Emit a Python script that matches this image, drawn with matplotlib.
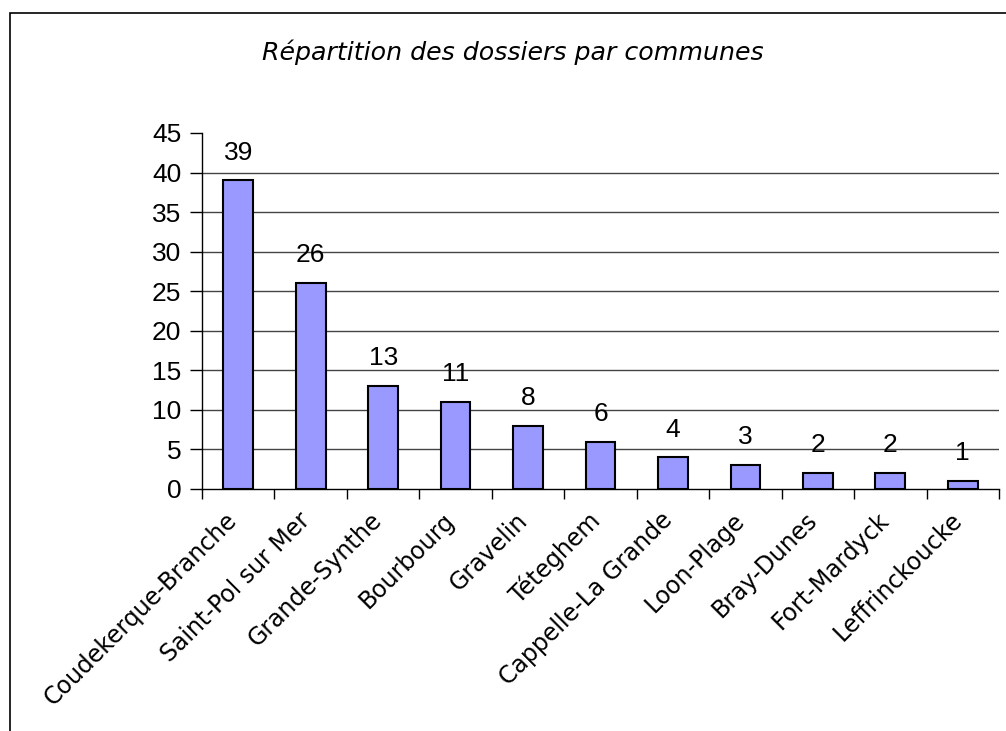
import matplotlib.pyplot as plt
from matplotlib.patches import Rectangle

communes = ["Coudekerque-Branche", "Saint-Pol sur Mer", "Grande-Synthe", "Bourbourg",
            "Gravelin", "Téteghem", "Cappelle-La Grande", "Loon-Plage", "Bray-Dunes",
            "Fort-Mardyck", "Leffrinckoucke"]
dossiers = [39, 26, 13, 11, 8, 6, 4, 3, 2, 2, 1]
yticks = [0, 5, 10, 15, 20, 25, 30, 35, 40, 45]

fig = plt.figure(figsize=(10.06, 7.31), dpi=100)

# cadre du graphique (coupé à droite et en bas comme dans l'original)
fig.patches.append(Rectangle((10 / 1006, -0.1), 1.2, 1 - 13 / 731 + 0.1,
                             transform=fig.transFigure, fill=False,
                             edgecolor="black", linewidth=1.2))

ax = fig.add_axes([202 / 1006, 1 - 489 / 731, 797 / 1006, 356 / 731])

x = list(range(len(communes)))
ax.bar(x, dossiers, width=0.41, color="#9999FF", edgecolor="black", linewidth=1.5, zorder=3)

# valeurs au-dessus des barres
for xi, v in zip(x, dossiers):
    ax.annotate(str(v), (xi, v), xytext=(0, 15), textcoords="offset points",
                ha="center", va="baseline", fontsize=19, family="Liberation Sans")

ax.set_xlim(-0.5, len(communes) - 0.5)
ax.set_ylim(0, 45)
ax.set_yticks(yticks)
ax.set_yticklabels([str(t) for t in yticks], fontsize=19, family="Liberation Sans")
for t in yticks[1:-1]:
    ax.axhline(t, color="#444444", linewidth=1.0, zorder=1)

ax.set_xticks([i + 0.5 for i in range(-1, len(communes))])
ax.set_xticklabels([])
ax.tick_params(axis="x", length=7, width=1, direction="out")
ax.tick_params(axis="y", length=9, width=1, direction="out", pad=6)
for xi, name in zip(x, communes):
    ax.text(xi - 0.18, -2.4, name, rotation=45, rotation_mode="anchor",
            ha="right", va="top", fontsize=17, family="DejaVu Sans")

for s in ["top", "right"]:
    ax.spines[s].set_visible(False)
ax.spines["left"].set_linewidth(1.0)
ax.spines["bottom"].set_linewidth(1.0)

fig.text(513 / 1006, 1 - 52 / 731, "Répartition des dossiers par communes",
         ha="center", va="center", fontsize=18.2, style="italic", family="DejaVu Sans")

fig.savefig("out.png", dpi=100)
